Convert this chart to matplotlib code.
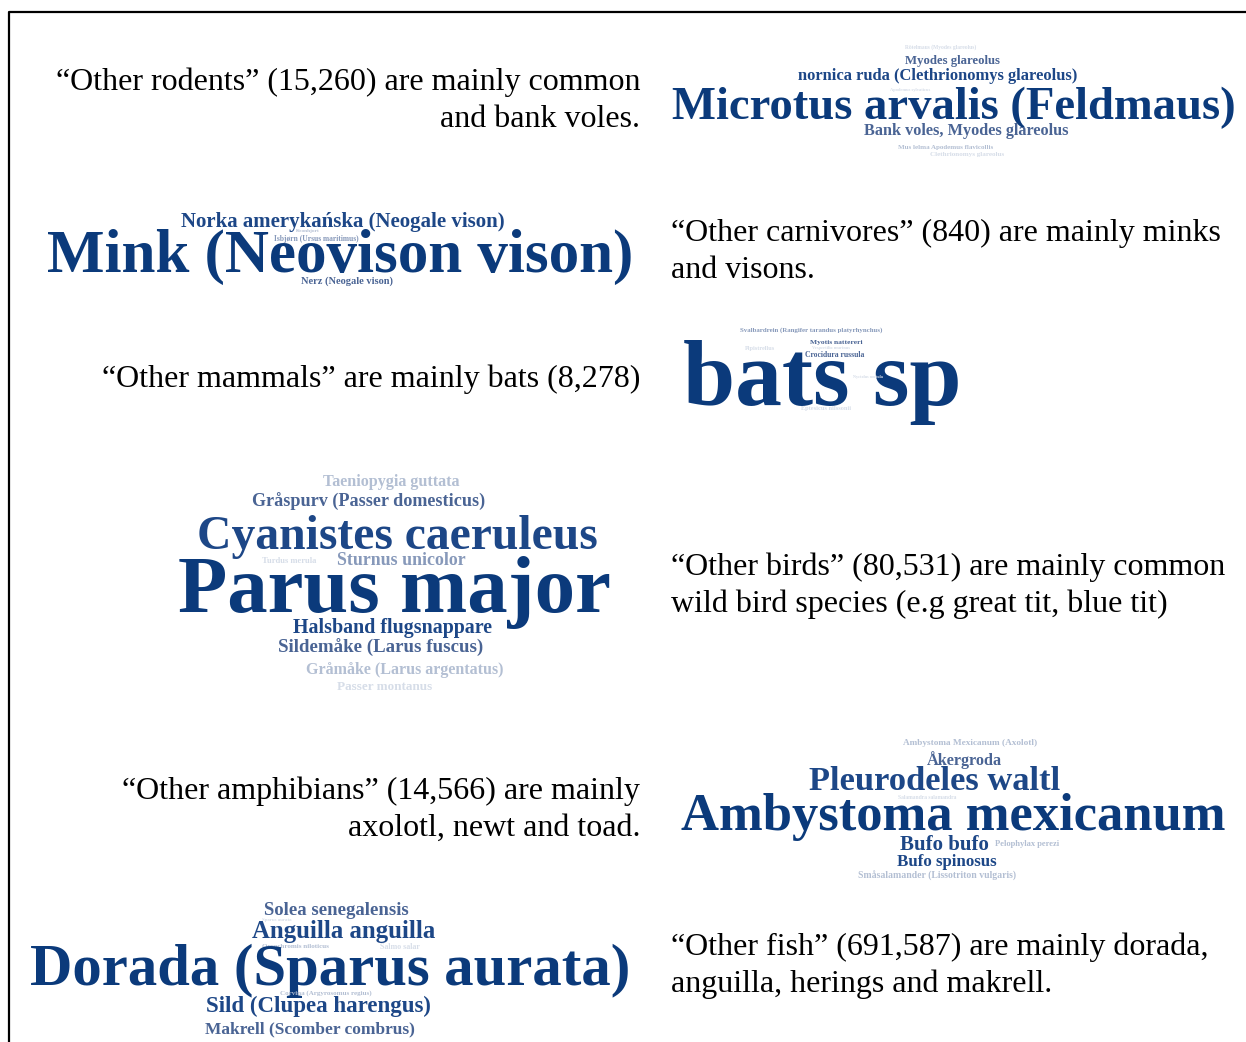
import matplotlib
matplotlib.use("Agg")
import matplotlib.pyplot as plt

# Captions (one entry per panel, lines split)
captions = [
    ["\u201cOther rodents\u201d (15,260) are mainly common", "and bank voles."],
    ["\u201cOther carnivores\u201d (840) are mainly minks", "and visons."],
    ["\u201cOther mammals\u201d are mainly bats (8,278)"],
    ["\u201cOther birds\u201d (80,531) are mainly common", "wild bird species (e.g great tit, blue tit)"],
    ["\u201cOther amphibians\u201d (14,566) are mainly", "axolotl, newt and toad."],
    ["\u201cOther fish\u201d (691,587) are mainly dorada,", "anguilla, herings and makrell."],
]

# Word clouds: words and their tone (0 = most frequent / darkest)
rodent_words = ["R\u00f6telmaus (Myodes glareolus)", "Myodes glareolus",
                "nornica ruda (Clethrionomys glareolus)", "Apodemus sylvaticus",
                "Microtus arvalis (Feldmaus)", "Bank voles, Myodes glareolus",
                "Mus lelma Apodemus flavicollis", "Clethrionomys glareolus"]
rodent_tones = [5, 2, 1, 5, 0, 2, 4, 5]

carnivore_words = ["Norka ameryka\u0144ska (Neogale vison)", "Kronhjort",
                   "Isbj\u00f8rn (Ursus maritimus)", "Mink (Neovison vison)",
                   "Nerz (Neogale vison)"]
carnivore_tones = [1, 4, 3, 0, 2]

bat_words = ["Svalbardrein (Rangifer tarandus platyrhynchus)", "Myotis nattereri",
             "Vespertilio murinus", "Crocidura russula", "Pipistrellus",
             "bats sp", "Nyctalus noctula", "Eptesicus nilssonii"]
bat_tones = [3, 2, 5, 2, 5, 0, 5, 5]

bird_words = ["Taeniopygia guttata", "Gr\u00e5spurv (Passer domesticus)",
              "Cyanistes caeruleus", "Sturnus unicolor", "Turdus merula", "Parus major",
              "Halsband flugsnappare", "Sildem\u00e5ke (Larus fuscus)",
              "Gr\u00e5m\u00e5ke (Larus argentatus)", "Passer montanus"]
bird_tones = [4, 2, 1, 3, 5, 0, 1, 2, 4, 5]

amphibian_words = ["Ambystoma Mexicanum (Axolotl)", "\u00c5kergroda", "Pleurodeles waltl",
                   "Salamandra salamandra", "Ambystoma mexicanum", "Bufo bufo",
                   "Pelophylax perezi", "Bufo spinosus",
                   "Sm\u00e5salamander (Lissotriton vulgaris)"]
amphibian_tones = [4, 2, 1, 5, 0, 1, 4, 1, 4]

fish_words = ["Solea senegalensis", "Sparus aurata", "Anguilla anguilla",
              "Oreochromis niloticus", "Salmo salar", "Dorada (Sparus aurata)",
              "Corvina (Argyrosomus regius)", "Sild (Clupea harengus)",
              "Makrell (Scomber combrus)"]
fish_tones = [2, 5, 1, 4, 5, 0, 4, 1, 2]

# ---- layout (pixel coords: left x, baseline y, width) ----
caption_pos = [(640, 90, "right"), (671, 241, "left"), (640, 387, "right"),
               (671, 575, "left"), (640, 799, "right"), (671, 955, "left")]
line_gap = 37

rodent_lay = [(905, 49, 72), (905, 64, 95), (798, 80, 280), (890, 91, 40),
              (672, 119, 566), (864, 135, 205), (898, 149, 95), (930, 156, 75)]
carnivore_lay = [(181, 227, 326), (296, 232, 24), (274, 241, 85), (47, 272, 587),
                 (301, 284, 92)]
bat_lay = [(740, 332, 145), (810, 344, 52), (812, 349, 38), (805, 357, 60),
           (745, 350, 30), (683, 405, 279), (853, 378, 30), (801, 410, 50)]
bird_lay = [(323, 486, 138), (252, 507, 233), (197, 549, 403), (337, 565, 129),
            (262, 563, 55), (178, 612, 434), (293, 633, 200), (278, 653, 205),
            (306, 674, 198), (337, 690, 95)]
amphibian_lay = [(903, 745, 134), (927, 765, 76), (809, 790, 252), (898, 799, 60),
                 (681, 830, 547), (900, 850, 89), (995, 846, 65), (897, 866, 100),
                 (858, 879, 158)]
fish_lay = [(264, 915, 145), (262, 921, 30), (252, 938, 184), (262, 948, 68),
            (380, 949, 40), (30, 985, 602), (280, 995, 92), (206, 1012, 226),
            (205, 1033, 211)]

tone_colors = ["#0b3a7b", "#1d4787", "#4a6494", "#8799ba", "#b3bfd3", "#d6dde8"]

fig = plt.figure(figsize=(12.46, 10.42), dpi=100)
ax = fig.add_axes([0, 0, 1, 1])
ax.set_xlim(0, 1246)
ax.set_ylim(1042, 0)
ax.axis("off")
renderer = fig.canvas.get_renderer()

# frame (only left and top edges are visible)
ax.plot([9, 9, 1250], [1050, 12, 12], color="black", lw=1.6, solid_capstyle="butt")

for lines, (x, y, ha) in zip(captions, caption_pos):
    for i, line in enumerate(lines):
        ax.text(x, y + i * line_gap, line, ha=ha, va="baseline", fontsize=23,
                family="Liberation Serif", color="black")


def draw_cloud(words, tones, layout):
    # each word is scaled so that it fills its slot width
    for w, t, (x, y, width) in zip(words, tones, layout):
        txt = ax.text(x, y, w, ha="left", va="baseline", fontsize=10,
                      family="Liberation Serif", fontweight="bold",
                      color=tone_colors[t])
        ext = txt.get_window_extent(renderer).width
        txt.set_fontsize(10 * width / ext)


draw_cloud(rodent_words, rodent_tones, rodent_lay)
draw_cloud(carnivore_words, carnivore_tones, carnivore_lay)
draw_cloud(bat_words, bat_tones, bat_lay)
draw_cloud(bird_words, bird_tones, bird_lay)
draw_cloud(amphibian_words, amphibian_tones, amphibian_lay)
draw_cloud(fish_words, fish_tones, fish_lay)

fig.savefig("out.png", dpi=100)
